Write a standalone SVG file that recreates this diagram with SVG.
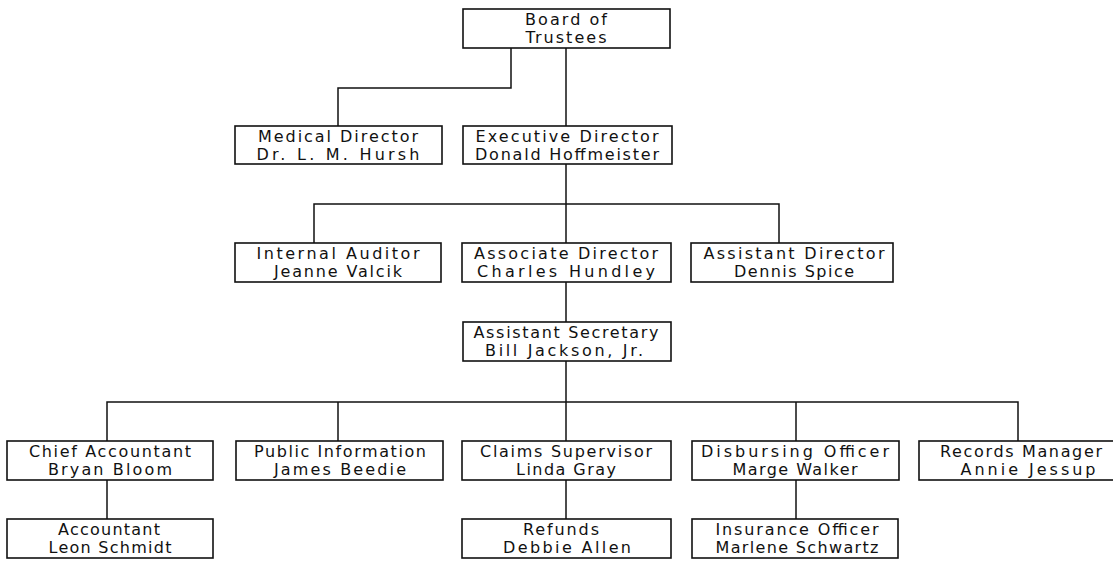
<svg xmlns="http://www.w3.org/2000/svg" width="1113" height="561" viewBox="0 0 1113 561">
<style>
rect.box{fill:#fff;stroke:#111;stroke-width:1.6}
.conn path{fill:none;stroke:#111;stroke-width:1.5}
text{font-family:"DejaVu Sans","Liberation Sans",Arial,sans-serif;font-size:16px;fill:#111;text-anchor:middle}
</style>
<rect x="0" y="0" width="1113" height="561" fill="#fff"/>
<g class="conn" id="connectors">
<path d="M511 48 V88 H338 V126"/>
<path d="M566 48 V126"/>
<path d="M566 164 V204"/>
<path d="M314 243 V204 H779 V243"/>
<path d="M566 204 V243"/>
<path d="M566 282 V322"/>
<path d="M566 361 V402"/>
<path d="M107 441 V402 H1018 V441"/>
<path d="M338 402 V441"/>
<path d="M566 402 V441"/>
<path d="M796 402 V441"/>
<path d="M107 480 V519"/>
<path d="M566 480 V519"/>
<path d="M796 480 V519"/>
</g>
<g id="board"><rect class="box" x="463" y="9" width="207" height="39"/>
<text x="566" y="25" textLength="82" lengthAdjust="spacing">Board of</text>
<text x="566" y="43" textLength="81" lengthAdjust="spacing">Trustees</text></g>
<g id="medical"><rect class="box" x="235" y="126" width="207" height="38"/>
<text x="338" y="142" textLength="160" lengthAdjust="spacing">Medical Director</text>
<text x="338" y="160" textLength="163" lengthAdjust="spacing">Dr. L. M. Hursh</text></g>
<g id="executive"><rect class="box" x="463" y="126" width="209" height="38"/>
<text x="567" y="142" textLength="183" lengthAdjust="spacing">Executive Director</text>
<text x="567" y="160" textLength="184" lengthAdjust="spacing">Donald Hoffmeister</text></g>
<g id="internal"><rect class="box" x="235" y="243" width="206" height="39"/>
<text x="338" y="259" textLength="163" lengthAdjust="spacing">Internal Auditor</text>
<text x="338" y="277" textLength="128" lengthAdjust="spacing">Jeanne Valcik</text></g>
<g id="associate"><rect class="box" x="462" y="243" width="209" height="39"/>
<text x="566" y="259" textLength="184" lengthAdjust="spacing">Associate Director</text>
<text x="566" y="277" textLength="178" lengthAdjust="spacing">Charles Hundley</text></g>
<g id="assistantdir"><rect class="box" x="691" y="243" width="202" height="39"/>
<text x="794" y="259" textLength="181" lengthAdjust="spacing">Assistant Director</text>
<text x="794" y="277" textLength="120" lengthAdjust="spacing">Dennis Spice</text></g>
<g id="asstsec"><rect class="box" x="463" y="322" width="208" height="39"/>
<text x="566" y="338" textLength="185" lengthAdjust="spacing">Assistant Secretary</text>
<text x="564" y="356" textLength="158" lengthAdjust="spacing">Bill Jackson, Jr.</text></g>
<g id="chief"><rect class="box" x="7" y="441" width="206" height="39"/>
<text x="110" y="457" textLength="162" lengthAdjust="spacing">Chief Accountant</text>
<text x="110" y="475" textLength="124" lengthAdjust="spacing">Bryan Bloom</text></g>
<g id="public"><rect class="box" x="236" y="441" width="207" height="39"/>
<text x="340" y="457" textLength="172" lengthAdjust="spacing">Public Information</text>
<text x="340" y="475" textLength="132" lengthAdjust="spacing">James Beedie</text></g>
<g id="claims"><rect class="box" x="462" y="441" width="209" height="39"/>
<text x="566" y="457" textLength="172" lengthAdjust="spacing">Claims Supervisor</text>
<text x="566" y="475" textLength="100" lengthAdjust="spacing">Linda Gray</text></g>
<g id="disbursing"><rect class="box" x="692" y="441" width="207" height="39"/>
<text x="795" y="457" textLength="188" lengthAdjust="spacing">Disbursing Officer</text>
<text x="795" y="475" textLength="125" lengthAdjust="spacing">Marge Walker</text></g>
<g id="records"><rect class="box" x="919" y="441" width="205" height="39"/>
<text x="1021" y="457" textLength="162" lengthAdjust="spacing">Records Manager</text>
<text x="1028" y="475" textLength="135" lengthAdjust="spacing">Annie Jessup</text></g>
<g id="accountant"><rect class="box" x="7" y="519" width="206" height="39"/>
<text x="109" y="535" textLength="102" lengthAdjust="spacing">Accountant</text>
<text x="110" y="553" textLength="123" lengthAdjust="spacing">Leon Schmidt</text></g>
<g id="refunds"><rect class="box" x="462" y="519" width="209" height="39"/>
<text x="561" y="535" textLength="76" lengthAdjust="spacing">Refunds</text>
<text x="567" y="553" textLength="128" lengthAdjust="spacing">Debbie Allen</text></g>
<g id="insurance"><rect class="box" x="692" y="519" width="206" height="39"/>
<text x="797" y="535" textLength="163" lengthAdjust="spacing">Insurance Officer</text>
<text x="797" y="553" textLength="163" lengthAdjust="spacing">Marlene Schwartz</text></g>
</svg>
